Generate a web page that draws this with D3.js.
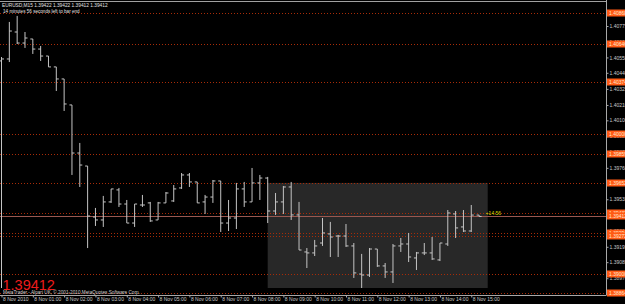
<!DOCTYPE html>
<html>
<head>
<meta charset="utf-8">
<script src="https://cdn.jsdelivr.net/npm/d3@7"></script>
<style>
body{margin:0;background:#000;}
svg{display:block;}
text{font-family:"Liberation Sans",Arial,sans-serif;}
</style>
</head>
<body>
<script>
//wrap everything in a self-executing anonymous function
(function(){

//EURUSD M15 bars, bar 0 = 8 Nov 2010 00:00
var opens = [1.40525,1.40539,1.40732,1.40653,1.40682,1.40610,1.40560,1.40482,1.40396,1.40210,
    1.39866,1.39773,1.39408,1.39387,1.39516,1.39602,1.39501,1.39365,1.39494,1.39509,
    1.39387,1.39509,1.39523,1.39616,1.39709,1.39659,1.39516,1.39551,1.39666,1.39365,
    1.39401,1.39609,1.39516,1.39652,1.39687,1.39451,1.39516,1.39623,1.39423,1.39158,
    1.39151,1.39222,1.39287,1.39272,1.39272,1.39201,1.39000,1.38993,1.39179,1.39058,
    1.39015,1.39201,1.39215,1.39115,1.39151,1.39151,1.39101,1.39215,1.39430,1.39337,
    1.39308,1.39422];
var highs = [1.40553,1.40804,1.40847,1.40732,1.40682,1.40632,1.40560,1.40482,1.40396,1.40210,
    1.39938,1.39773,1.39473,1.39559,1.39609,1.39616,1.39530,1.39501,1.39566,1.39516,
    1.39516,1.39587,1.39637,1.39723,1.39723,1.39659,1.39566,1.39673,1.39666,1.39530,
    1.39652,1.39659,1.39759,1.39709,1.39695,1.39580,1.39630,1.39659,1.39516,1.39186,
    1.39244,1.39401,1.39373,1.39280,1.39358,1.39222,1.39144,1.39186,1.39179,1.39079,
    1.39215,1.39258,1.39294,1.39158,1.39222,1.39265,1.39222,1.39458,1.39451,1.39458,
    1.39494,1.39422];
var lows = [1.38900,1.40517,1.40646,1.40618,1.40575,1.40525,1.40482,1.40310,1.40167,1.39709,
    1.39623,1.39186,1.39344,1.39337,1.39509,1.39480,1.39365,1.39337,1.39480,1.39373,
    1.39387,1.39509,1.39516,1.39609,1.39623,1.39509,1.39430,1.39509,1.39301,1.39308,
    1.39322,1.39480,1.39516,1.39530,1.39365,1.39423,1.39430,1.39387,1.39172,1.39043,
    1.39129,1.39201,1.39122,1.39122,1.39194,1.38972,1.38900,1.38979,1.39051,1.38972,
    1.38936,1.39158,1.39086,1.39029,1.39136,1.39101,1.39093,1.39201,1.39258,1.39301,
    1.39301,1.39412];
var closes = [1.40539,1.40739,1.40653,1.40689,1.40610,1.40560,1.40482,1.40396,1.40217,1.39866,
    1.39780,1.39415,1.39387,1.39516,1.39609,1.39501,1.39365,1.39501,1.39494,1.39380,
    1.39509,1.39580,1.39609,1.39709,1.39659,1.39509,1.39551,1.39666,1.39365,1.39401,
    1.39609,1.39516,1.39652,1.39687,1.39451,1.39516,1.39623,1.39423,1.39172,1.39151,
    1.39201,1.39294,1.39265,1.39272,1.39201,1.39008,1.38993,1.39179,1.39058,1.39015,
    1.39201,1.39215,1.39122,1.39151,1.39151,1.39108,1.39222,1.39437,1.39330,1.39308,
    1.39422,1.39412];

//horizontal line objects
var levels = [1.40868,1.40646,1.40374,1.40000,1.39859,1.39652,1.39437,1.39294,1.39272,1.39000,1.38864];
var bidPrice = 1.39412;

//price scale labels
var priceTicks = [1.40775,1.40660,1.40550,1.40440,1.40325,1.40210,1.40100,1.39985,1.39875,
    1.39760,1.39650,1.39535,1.39420,1.39310,1.39195,1.39085,1.38970];

//time scale labels (bar index, text)
var timeTicks = [0,4,8,12,16,20,24,28,32,36,40,44,48,52,56,60];
var timeLabels = ["8 Nov 2010","8 Nov 01:00","8 Nov 02:00","8 Nov 03:00","8 Nov 04:00",
    "8 Nov 05:00","8 Nov 06:00","8 Nov 07:00","8 Nov 08:00","8 Nov 09:00","8 Nov 10:00",
    "8 Nov 11:00","8 Nov 12:00","8 Nov 13:00","8 Nov 14:00","8 Nov 15:00"];

//rectangle object and its text
var rectBars = [34, 62.1];
var rectPrices = [1.39652, 1.38900];
var rectText = "+14.56";
var rectTextPrice = 1.39423;

//header texts
var titleText = "EURUSD,M15  1.39422 1.39422 1.39412 1.39412";
var timerText = "14 minutes 56 seconds left to bar end";
var copyText = "MetaTrader - Alpari UK, \u00a9 2001-2010 MetaQuotes Software Corp.";

window.onload = drawChart();

function drawChart(){
    var width = 625,
        height = 304,
        plotRight = 606,
        plotBottom = 295;

    var svg = d3.select("body")
        .append("svg")
        .attr("width", width)
        .attr("height", height);

    svg.append("rect")
        .attr("width", width)
        .attr("height", height)
        .attr("fill", "#000");

    //bar index -> x, price -> y
    var x = d3.scaleLinear()
        .domain([0, 61])
        .range([1.5, 479.1]);
    var y = d3.scaleLinear()
        .domain([1.38850, 1.40961])
        .range([plotBottom, 0]);

    //rectangle object (background)
    svg.append("rect")
        .attr("x", x(rectBars[0]))
        .attr("y", y(rectPrices[0]))
        .attr("width", x(rectBars[1]) - x(rectBars[0]))
        .attr("height", y(rectPrices[1]) - y(rectPrices[0]))
        .attr("fill", "#282828");

    //dotted horizontal lines
    svg.selectAll(".level")
        .data(levels)
        .enter()
        .append("line")
        .attr("class", "level")
        .attr("x1", 0)
        .attr("x2", plotRight)
        .attr("y1", function(d){ return Math.round(y(d)) + 0.5; })
        .attr("y2", function(d){ return Math.round(y(d)) + 0.5; })
        .attr("stroke", "#a82c08")
        .attr("stroke-dasharray", "1,2");

    //bid line
    svg.append("line")
        .attr("x1", 0)
        .attr("x2", plotRight)
        .attr("y1", Math.round(y(bidPrice)) + 0.5)
        .attr("y2", Math.round(y(bidPrice)) + 0.5)
        .attr("stroke", "#9a5850");

    //OHLC bars
    var bars = svg.selectAll(".bar")
        .data(opens)
        .enter()
        .append("path")
        .attr("class", "bar")
        .attr("d", function(d, i){
            var xi = x(i);
            return "M" + xi + "," + y(highs[i]) + "V" + y(lows[i]) +
                "M" + (xi - 2.5) + "," + y(opens[i]) + "H" + xi +
                "M" + xi + "," + y(closes[i]) + "H" + (xi + 2.5);
        })
        .attr("fill", "none")
        .attr("stroke", "#c4c4c4")
        .attr("stroke-width", 1);

    //rectangle text
    svg.append("text")
        .attr("x", x(rectBars[1]) - 2)
        .attr("y", y(rectTextPrice))
        .attr("font-size", 5)
        .attr("fill", "#d8d800")
        .text(rectText);

    //header
    svg.append("text")
        .attr("x", 2)
        .attr("y", 7)
        .attr("font-size", 4.8)
        .attr("fill", "#e0e0e0")
        .text(titleText);
    svg.append("text")
        .attr("x", 3)
        .attr("y", 13)
        .attr("font-size", 4.6)
        .attr("fill", "#e0e0e0")
        .text(timerText);

    //big bid price and copyright
    svg.append("text")
        .attr("x", 2.5)
        .attr("y", 290)
        .attr("font-size", 14.5)
        .attr("fill", "#ee1c1c")
        .text(d3.format(".5f")(bidPrice));
    svg.append("text")
        .attr("x", 3)
        .attr("y", 293.5)
        .attr("font-size", 4.7)
        .attr("fill", "#d0d0d0")
        .text(copyText);

    //frame line at the top
    svg.append("line")
        .attr("x1", 0).attr("x2", plotRight)
        .attr("y1", 1.5).attr("y2", 1.5)
        .attr("stroke", "#a0a0a0");

    //price axis
    var yAxis = d3.axisRight(y)
        .tickValues(priceTicks)
        .tickSize(2)
        .tickPadding(1)
        .tickFormat(d3.format(".5f"));
    var gy = svg.append("g")
        .attr("transform", "translate(" + (plotRight + 0.5) + ",0)")
        .call(yAxis);
    styleAxis(gy);
    gy.select(".domain").attr("d", "M0,0V" + plotBottom);

    //time axis
    var xAxis = d3.axisBottom(x)
        .tickValues(timeTicks)
        .tickSize(2)
        .tickPadding(0)
        .tickFormat(function(d, i){ return timeLabels[i]; });
    var gx = svg.append("g")
        .attr("transform", "translate(0," + (plotBottom + 0.5) + ")")
        .call(xAxis);
    styleAxis(gx);
    gx.select(".domain").attr("d", "M0,0H" + (plotRight + 0.5));
    gx.selectAll(".tick text")
        .attr("text-anchor", "start")
        .attr("x", 1)
        .attr("dy", "0.75em");

    //price labels of the line objects
    var tags = svg.selectAll(".tag")
        .data(levels.concat([bidPrice]))
        .enter()
        .append("g")
        .attr("class", "tag")
        .attr("transform", function(d){ return "translate(607," + Math.round(y(d)) + ")"; });
    tags.append("rect")
        .attr("x", 0)
        .attr("y", -3.5)
        .attr("width", 20)
        .attr("height", 7)
        .attr("fill", "#ff5a14");
    tags.append("text")
        .attr("x", 2)
        .attr("y", 1.8)
        .attr("font-size", 5)
        .attr("fill", "#ffe6cc")
        .text(function(d){ return d3.format(".5f")(d); });
};

function styleAxis(g){
    g.select(".domain").attr("stroke", "#a8a8a8");
    g.selectAll(".tick line").attr("stroke", "#a8a8a8");
    g.selectAll(".tick text")
        .attr("fill", "#c8c8c8")
        .attr("font-size", 5)
        .attr("font-family", "Liberation Sans, Arial, sans-serif");
};

})();
</script>
</body>
</html>
